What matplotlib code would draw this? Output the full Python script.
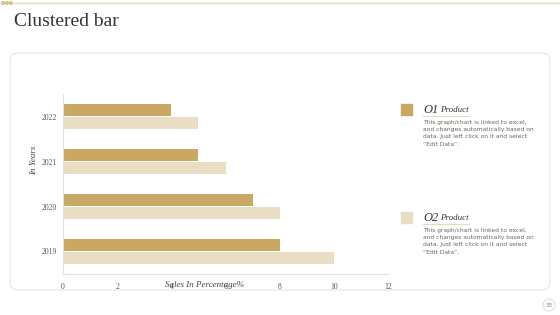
import numpy as np
import matplotlib
matplotlib.use("Agg")
import matplotlib.pyplot as plt
from matplotlib.patches import FancyBboxPatch, Rectangle, Circle

# chart data
years = ["2019", "2020", "2021", "2022"]
product1 = [8, 7, 5, 4]
product2 = [10, 8, 6, 5]
x_ticks = [0, 2, 4, 6, 8, 10, 12]
series_names = ["O1 Product", "O2 Product"]
blurb = ("This graph/chart is linked to excel,\nand changes automatically based on\n"
         "data. Just left click on it and select\n\u201cEdit Data\u201d.")

dark = "#C8A862"
light = "#E9DEC3"
serif = "Liberation Serif"

fig = plt.figure(figsize=(5.6, 3.15), dpi=100)
fig.patch.set_facecolor("white")

# background layer in pixel coordinates
bg = fig.add_axes([0, 0, 1, 1])
bg.set_xlim(0, 560)
bg.set_ylim(315, 0)
bg.axis("off")
bg.plot([14, 560], [3, 3], color="#E6DBBF", lw=1)
for cx in [3, 7, 11]:
    bg.add_patch(Circle((cx, 3), 1.4, color="#D8C48E"))
bg.text(14, 22, "Clustered bar", fontsize=14, family=serif, color="#333333", va="center")
card = FancyBboxPatch((10, 53), 540, 237, boxstyle="round,pad=0,rounding_size=8",
                      facecolor="white", edgecolor="#E4E4E4", lw=0.8)
bg.add_patch(card)
bg.add_patch(Circle((549, 305), 6, facecolor="white", edgecolor="#DDDDDD", lw=0.7))
bg.text(549, 305.5, "33", fontsize=4, color="#777777", ha="center", va="center")

# legend blocks
for i, (name, col, y0) in enumerate(zip(series_names, [dark, light], [110, 218])):
    bg.add_patch(Rectangle((401, y0 - 6), 11, 11, color=col))
    bg.text(423, y0, name[:2], fontsize=9, family=serif, style="italic",
            color="#333333", va="center")
    bg.text(440, y0 + 0.5, name[3:], fontsize=6.5, family=serif, style="italic",
            color="#333333", va="center")
    bg.plot([423, 469], [y0 + 6, y0 + 6], color="#E6DBBF", lw=0.8)
    bg.text(423, y0 + 10, blurb, fontsize=4.3, color="#666666", va="top",
            linespacing=1.55)

# chart
ax = fig.add_axes([63 / 560, 1 - 274 / 315, 325 / 560, 180 / 315])
ax.set_facecolor("none")
y = np.arange(len(years))
ax.barh(y + 0.145, product1, height=0.26, color=dark)
ax.barh(y - 0.145, product2, height=0.26, color=light)
ax.set_xlim(0, 12)
ax.set_ylim(-0.5, 3.5)
ax.set_xticks(x_ticks)
ax.set_xticklabels([str(t) for t in x_ticks], fontsize=5.5, family=serif, color="#555555")
ax.set_yticks(y)
ax.set_yticklabels(years, fontsize=5.5, family=serif, color="#555555")
ax.tick_params(length=0)
ax.tick_params(axis="x", pad=6.5)
ax.tick_params(axis="y", pad=4.5)
for s in ["top", "right"]:
    ax.spines[s].set_visible(False)
for s in ["left", "bottom"]:
    ax.spines[s].set_color("#E0E0E0")
    ax.spines[s].set_linewidth(0.8)

fig.text(34 / 560, 1 - 160 / 315, "In Years", rotation=90, fontsize=6.5, family=serif,
         style="italic", color="#444444", ha="center", va="center")
fig.text(205 / 560, 1 - 285 / 315, "Sales In Percentage%", fontsize=6.5, family=serif,
         style="italic", color="#444444", ha="center", va="center")

fig.savefig("out.png", dpi=100)
